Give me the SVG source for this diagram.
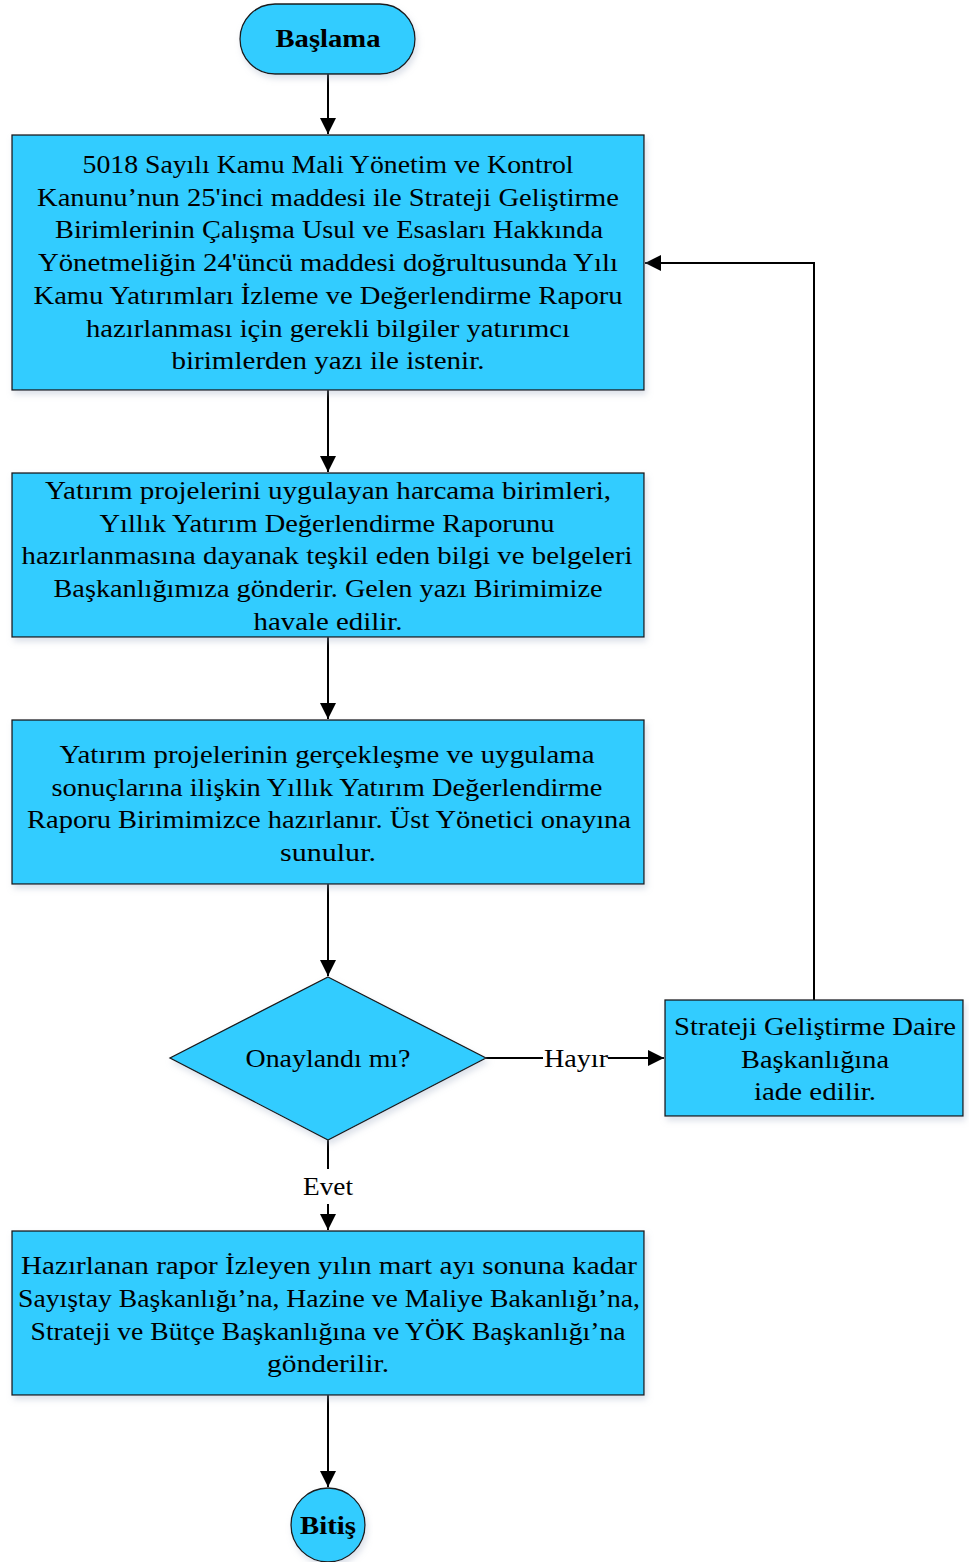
<svg xmlns="http://www.w3.org/2000/svg" width="969" height="1562" viewBox="0 0 969 1562">
<style>
.n{fill:#33CCFF;stroke:#1a1a1a;stroke-width:1.3;filter:url(#sh)}
.t{font-family:"Liberation Serif",serif;font-size:26px;fill:#000;text-anchor:middle}
.b{font-weight:bold}
.c{fill:none;stroke:#000;stroke-width:2}
</style>
<defs>
<filter id="sh" x="-10%" y="-10%" width="120%" height="130%">
<feDropShadow dx="2" dy="4" stdDeviation="3" flood-color="#9aa9c0" flood-opacity="0.35"/>
</filter>
<marker id="ar" viewBox="0 0 10 10" refX="10" refY="5" markerWidth="16" markerHeight="16" markerUnits="userSpaceOnUse" orient="auto">
<path d="M0,0 L10,5 L0,10 Z" fill="#000"/>
</marker>
</defs>
<rect width="969" height="1562" fill="#fff"/>
<g id="connectors">
<line class="c" x1="328" y1="74" x2="328" y2="134" marker-end="url(#ar)"/>
<line class="c" x1="328" y1="390" x2="328" y2="472" marker-end="url(#ar)"/>
<line class="c" x1="328" y1="637" x2="328" y2="719" marker-end="url(#ar)"/>
<line class="c" x1="328" y1="884" x2="328" y2="976" marker-end="url(#ar)"/>
<line class="c" x1="486" y1="1058" x2="543" y2="1058"/>
<line class="c" x1="608" y1="1058" x2="664" y2="1058" marker-end="url(#ar)"/>
<text class="t" x="576" y="1067" textLength="64" lengthAdjust="spacingAndGlyphs">Hayır</text>
<polyline class="c" points="814,1000 814,263 645,263" marker-end="url(#ar)"/>
<line class="c" x1="328" y1="1140" x2="328" y2="1169"/>
<line class="c" x1="328" y1="1204" x2="328" y2="1230" marker-end="url(#ar)"/>
<text class="t" x="328" y="1195" textLength="50" lengthAdjust="spacingAndGlyphs">Evet</text>
<line class="c" x1="328" y1="1395" x2="328" y2="1487" marker-end="url(#ar)"/>
</g>
<g id="start">
<rect class="n" x="240" y="4" width="175" height="70" rx="35" ry="35"/>
<text class="t b" x="328" y="47" textLength="105" lengthAdjust="spacingAndGlyphs">Başlama</text>
</g>
<g id="step1">
<rect class="n" x="12" y="135" width="632" height="255"/>
<text class="t" x="328" y="173" textLength="491" lengthAdjust="spacingAndGlyphs">5018 Sayılı Kamu Mali Yönetim ve Kontrol</text>
<text class="t" x="328" y="206" textLength="582" lengthAdjust="spacingAndGlyphs">Kanunu’nun 25'inci maddesi ile Strateji Geliştirme</text>
<text class="t" x="329" y="238" textLength="548" lengthAdjust="spacingAndGlyphs">Birimlerinin Çalışma Usul ve Esasları Hakkında</text>
<text class="t" x="328" y="271" textLength="580" lengthAdjust="spacingAndGlyphs">Yönetmeliğin 24'üncü maddesi doğrultusunda Yılı</text>
<text class="t" x="328" y="304" textLength="589" lengthAdjust="spacingAndGlyphs">Kamu Yatırımları İzleme ve Değerlendirme Raporu</text>
<text class="t" x="328" y="337" textLength="484" lengthAdjust="spacingAndGlyphs">hazırlanması için gerekli bilgiler yatırımcı</text>
<text class="t" x="328" y="369" textLength="313" lengthAdjust="spacingAndGlyphs">birimlerden yazı ile istenir.</text>
</g>
<g id="step2">
<rect class="n" x="12" y="473" width="632" height="164"/>
<text class="t" x="328" y="499" textLength="566" lengthAdjust="spacingAndGlyphs">Yatırım projelerini uygulayan harcama birimleri,</text>
<text class="t" x="327" y="532" textLength="455" lengthAdjust="spacingAndGlyphs">Yıllık Yatırım Değerlendirme Raporunu</text>
<text class="t" x="327" y="564" textLength="611" lengthAdjust="spacingAndGlyphs">hazırlanmasına dayanak teşkil eden bilgi ve belgeleri</text>
<text class="t" x="328" y="597" textLength="549" lengthAdjust="spacingAndGlyphs">Başkanlığımıza gönderir. Gelen yazı Birimimize</text>
<text class="t" x="328" y="630" textLength="149" lengthAdjust="spacingAndGlyphs">havale edilir.</text>
</g>
<g id="step3">
<rect class="n" x="12" y="720" width="632" height="164"/>
<text class="t" x="327" y="763" textLength="535" lengthAdjust="spacingAndGlyphs">Yatırım projelerinin gerçekleşme ve uygulama</text>
<text class="t" x="327" y="796" textLength="551" lengthAdjust="spacingAndGlyphs">sonuçlarına ilişkin Yıllık Yatırım Değerlendirme</text>
<text class="t" x="329" y="828" textLength="604" lengthAdjust="spacingAndGlyphs">Raporu Birimimizce hazırlanır. Üst Yönetici onayına</text>
<text class="t" x="328" y="861" textLength="96" lengthAdjust="spacingAndGlyphs">sunulur.</text>
</g>
<g id="decision">
<polygon class="n" points="328,977 486,1058 328,1140 170,1058"/>
<text class="t" x="328" y="1067" textLength="165" lengthAdjust="spacingAndGlyphs">Onaylandı mı?</text>
</g>
<g id="return">
<rect class="n" x="665" y="1000" width="298" height="116"/>
<text class="t" x="815" y="1035" textLength="282" lengthAdjust="spacingAndGlyphs">Strateji Geliştirme Daire</text>
<text class="t" x="815" y="1068" textLength="148" lengthAdjust="spacingAndGlyphs">Başkanlığına</text>
<text class="t" x="815" y="1100" textLength="122" lengthAdjust="spacingAndGlyphs">iade edilir.</text>
</g>
<g id="step4">
<rect class="n" x="12" y="1231" width="632" height="164"/>
<text class="t" x="329" y="1274" textLength="616" lengthAdjust="spacingAndGlyphs">Hazırlanan rapor İzleyen yılın mart ayı sonuna kadar</text>
<text class="t" x="329" y="1307" textLength="622" lengthAdjust="spacingAndGlyphs">Sayıştay Başkanlığı’na, Hazine ve Maliye Bakanlığı’na,</text>
<text class="t" x="328" y="1340" textLength="595" lengthAdjust="spacingAndGlyphs">Strateji ve Bütçe Başkanlığına ve YÖK Başkanlığı’na</text>
<text class="t" x="328" y="1372" textLength="122" lengthAdjust="spacingAndGlyphs">gönderilir.</text>
</g>
<g id="end">
<circle class="n" cx="328" cy="1525" r="37"/>
<text class="t b" x="328" y="1534" textLength="56" lengthAdjust="spacingAndGlyphs">Bitiş</text>
</g>
</svg>
